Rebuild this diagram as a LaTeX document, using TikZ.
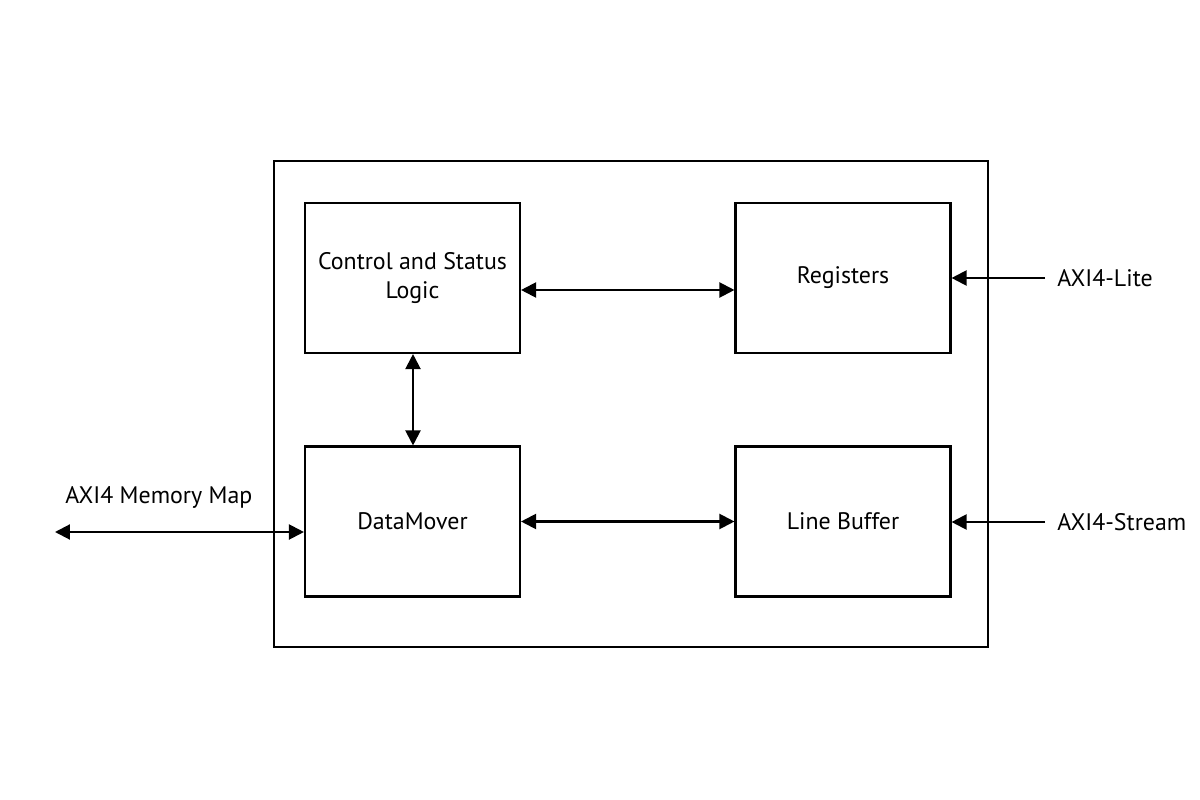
\documentclass[tikz,border=0pt]{standalone}
\usepackage{fontspec}
\setmainfont{PT Sans}
\usetikzlibrary{arrows.meta}
\begin{document}
\begin{tikzpicture}[x=0.02cm,y=-0.02cm,
  blk/.style={draw, line width=1.2pt, minimum width=215*0.02cm, minimum height=150*0.02cm, align=center, inner sep=0pt, font=\fontsize{13.6}{17}\selectfont},
  conn/.style={line width=1.2pt, {Triangle[length=0.3cm,width=0.3cm]}-{Triangle[length=0.3cm,width=0.3cm]}},
  inarr/.style={line width=1.2pt, -{Triangle[length=0.3cm,width=0.3cm]}},
  lbl/.style={font=\fontsize{13.6}{17}\selectfont, inner sep=0pt}]
\useasboundingbox (0,0) rectangle (1200,800);
\node[draw, line width=1.2pt, minimum width=714*0.02cm, minimum height=486*0.02cm, inner sep=0pt] (outer) at (631,404) {};
\node[blk] (ctrl) at (412.5,278) {Control and Status\\Logic};
\node[blk] (reg) at (843,278) {Registers};
\node[blk] (dm) at (412.5,521.5) {DataMover};
\node[blk] (lb) at (843,521.5) {Line Buffer};
\draw[conn] (ctrl.east |- 0,290) -- (reg.west |- 0,290);
\draw[conn] (ctrl.south -| 413,0) -- (dm.north -| 413,0);
\draw[conn] (dm.east) -- (lb.west);
\coordinate (lite) at (1045,278);
\coordinate (stream) at (1045,522);
\coordinate (mm) at (55,532);
\draw[inarr] (lite) -- (reg.west -| reg.east);
\draw[inarr] (stream) -- (lb.east |- stream);
\draw[conn] (mm) -- (dm.west |- mm);
\node[lbl, anchor=west] (litel) at (1057,278) {AXI4-Lite};
\node[lbl, anchor=west] (streaml) at (1057,522) {AXI4-Stream};
\node[lbl, anchor=west] (mml) at (65,497) {AXI4 Memory Map};
\end{tikzpicture}
\end{document}
